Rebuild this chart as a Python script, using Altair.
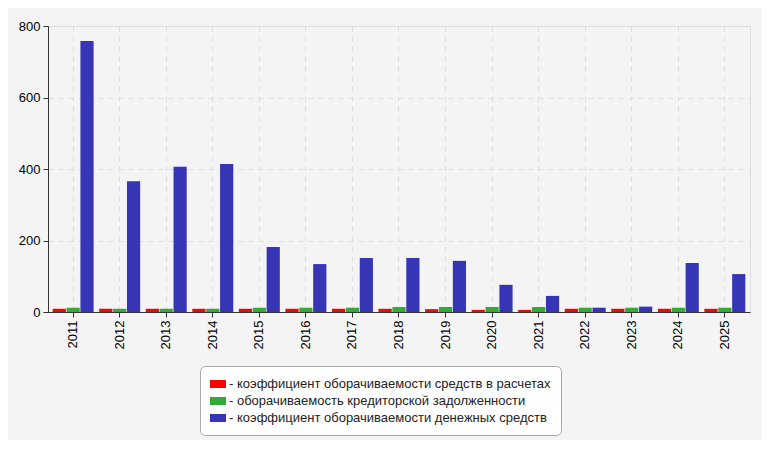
import altair as alt
import pandas as pd

years = [str(y) for y in range(2011, 2026)]
series = [
    "- коэффициент оборачиваемости средств в расчетах",
    "- оборачиваемость кредиторской задолженности",
    "- коэффициент оборачиваемости денежных средств",
]
colors = ["#ff0000", "#33aa33", "#3535b5"]
red_vals = [9, 9, 9, 9, 9, 9, 9, 9, 8, 6, 6, 9, 9, 9, 9]
green_vals = [12, 9, 9, 9, 12, 12, 12, 14, 14, 14, 14, 12, 12, 12, 12]
blue_vals = [758, 366, 406, 414, 182, 134, 151, 151, 143, 76, 45, 12, 15, 137, 106]

rows = []
for vals, s in zip([red_vals, green_vals, blue_vals], series):
    for y, v in zip(years, vals):
        rows.append({"year": y, "series": s, "value": v})
df = pd.DataFrame(rows)

chart = alt.Chart(df).mark_bar().encode(
    x=alt.X("year:N", sort=years, title=None,
            scale=alt.Scale(paddingInner=0.12, paddingOuter=0.1),
            axis=alt.Axis(labelAngle=270, labelAlign="right", labelBaseline="middle",
                          grid=True, gridDash=[5, 5], gridColor="#dddddd",
                          domainColor="#333333", tickColor="#333333", tickSize=5,
                          labelFontSize=13, labelColor="#000000", labelPadding=3)),
    xOffset=alt.XOffset("series:N", sort=series, scale=alt.Scale(paddingInner=0.05)),
    y=alt.Y("value:Q", title=None,
            scale=alt.Scale(domain=[0, 800], nice=False),
            axis=alt.Axis(values=[0, 200, 400, 600, 800], grid=True, gridDash=[5, 5],
                          gridColor="#dddddd", domainColor="#333333", tickColor="#333333",
                          tickSize=5, labelFontSize=13, labelColor="#000000", labelPadding=3)),
    color=alt.Color("series:N", sort=series,
                    scale=alt.Scale(domain=series, range=colors),
                    legend=alt.Legend(title=None, orient="none", legendX=152, legendY=340,
                                      direction="vertical", fillColor="#ffffff",
                                      strokeColor="#aaaaaa", cornerRadius=5, padding=10,
                                      labelFontSize=13, labelColor="#222222",
                                      symbolType="M-1,-0.5L1,-0.5L1,0.5L-1,0.5Z",
                                      symbolSize=256, symbolStrokeWidth=0,
                                      symbolOpacity=1, rowPadding=2, labelOffset=3,
                                      labelLimit=500)),
).properties(
    width=702, height=286,
    autosize=alt.AutoSizeParams(type="none"),
    padding={"left": 40, "top": 18, "right": 12, "bottom": 128},
    background="#f4f4f4",
).configure_view(
    fill="#fbfbf5", stroke="#e4e4e4"
).configure(
    font="Liberation Sans"
)

chart.save("out.html", embed_options={"renderer": "svg", "actions": False})
